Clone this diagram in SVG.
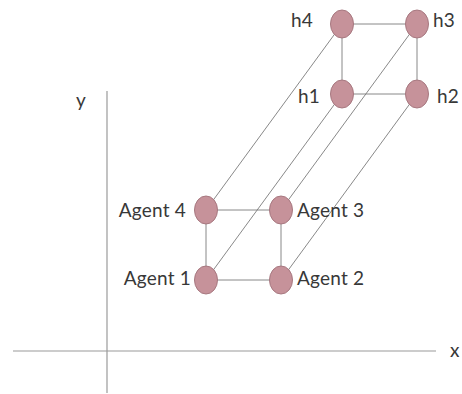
<svg xmlns="http://www.w3.org/2000/svg" width="462" height="394" viewBox="0 0 462 394">
<style>
.axis{stroke:#9a9a9a;stroke-width:1.2;fill:none}
.edge{stroke:#7a7a7a;stroke-width:0.9;fill:none}
.node{fill:#c6929a;stroke:#a77880;stroke-width:1}
.lbl{font-family:Lato,"Open Sans",sans-serif;font-weight:400;font-size:19px;letter-spacing:0.2px;fill:#383838}
</style>
<rect width="462" height="394" fill="#ffffff"/>
<g id="axes">
<line class="axis" x1="107" y1="91" x2="107" y2="393"/>
<line class="axis" x1="13" y1="351" x2="436" y2="351"/>
<text class="lbl" x="76" y="107">y</text>
<text class="lbl" x="450" y="357">x</text>
</g>
<g id="connectors">
<line class="edge" x1="342" y1="24" x2="417" y2="24"/>
<line class="edge" x1="342" y1="94" x2="417" y2="94"/>
<line class="edge" x1="342" y1="24" x2="342" y2="94"/>
<line class="edge" x1="417" y1="24" x2="417" y2="94"/>
<line class="edge" x1="206" y1="210" x2="281" y2="210"/>
<line class="edge" x1="206" y1="280" x2="281" y2="280"/>
<line class="edge" x1="206" y1="210" x2="206" y2="280"/>
<line class="edge" x1="281" y1="210" x2="281" y2="280"/>
<line class="edge" x1="342" y1="24" x2="206" y2="210"/>
<line class="edge" x1="417" y1="24" x2="281" y2="210"/>
<line class="edge" x1="342" y1="94" x2="206" y2="280"/>
<line class="edge" x1="417" y1="94" x2="281" y2="280"/>
</g>
<g id="h4"><ellipse class="node" cx="342" cy="24" rx="11.5" ry="14"/><text class="lbl" x="313" y="27" text-anchor="end">h4</text></g>
<g id="h3"><ellipse class="node" cx="417" cy="24" rx="11.5" ry="14"/><text class="lbl" x="433" y="27">h3</text></g>
<g id="h1"><ellipse class="node" cx="342" cy="94" rx="11.5" ry="14"/><text class="lbl" x="320" y="103" text-anchor="end">h1</text></g>
<g id="h2"><ellipse class="node" cx="417" cy="94" rx="11.5" ry="14"/><text class="lbl" x="437" y="103">h2</text></g>
<g id="agent4"><ellipse class="node" cx="206" cy="210" rx="11.5" ry="14"/><text class="lbl" x="186" y="217" text-anchor="end">Agent 4</text></g>
<g id="agent3"><ellipse class="node" cx="281" cy="210" rx="11.5" ry="14"/><text class="lbl" x="297" y="217">Agent 3</text></g>
<g id="agent1"><ellipse class="node" cx="206" cy="280" rx="11.5" ry="14"/><text class="lbl" x="191" y="285" text-anchor="end">Agent 1</text></g>
<g id="agent2"><ellipse class="node" cx="281" cy="280" rx="11.5" ry="14"/><text class="lbl" x="297" y="285">Agent 2</text></g>
</svg>
